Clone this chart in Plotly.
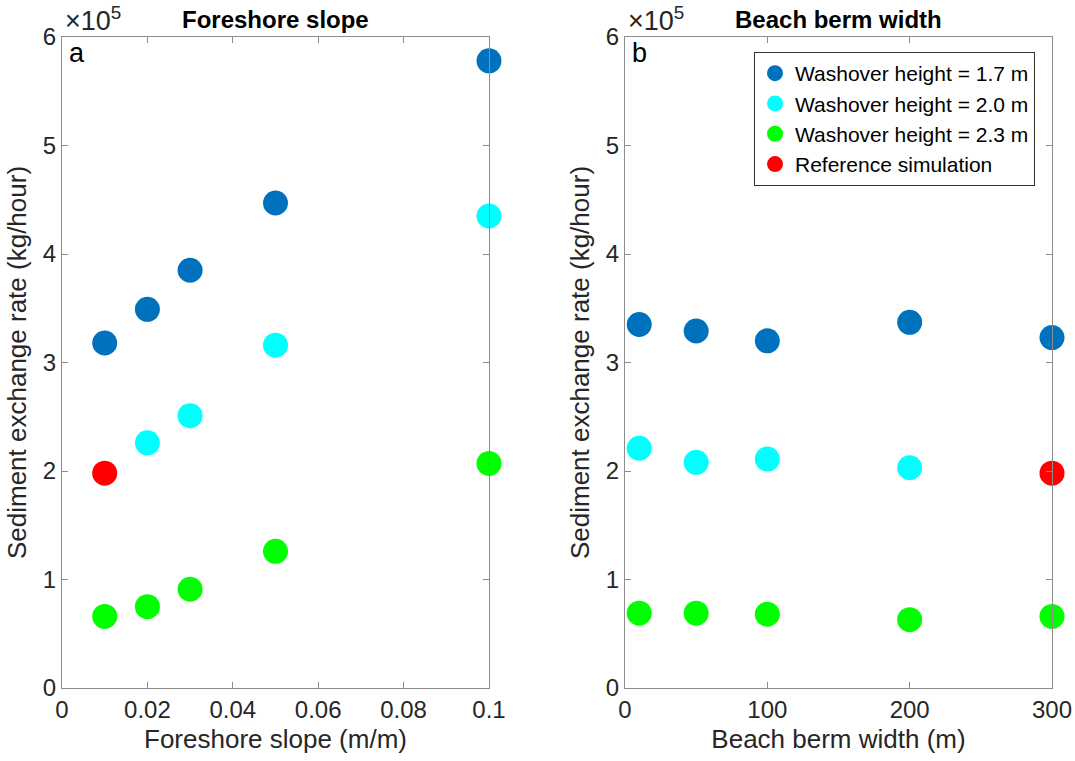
import plotly.graph_objects as go

# ---- data ----
slope_x = [0.01, 0.02, 0.03, 0.05, 0.1]
slope_h17 = [3.18e5, 3.49e5, 3.85e5, 4.47e5, 5.78e5]
slope_h20_x = [0.02, 0.03, 0.05, 0.1]
slope_h20 = [2.26e5, 2.51e5, 3.16e5, 4.35e5]
slope_h23 = [0.66e5, 0.75e5, 0.91e5, 1.26e5, 2.07e5]
slope_ref_x = [0.01]
slope_ref = [1.98e5]

berm_x = [10, 50, 100, 200, 300]
berm_h17 = [3.35e5, 3.29e5, 3.20e5, 3.37e5, 3.23e5]
berm_h20_x = [10, 50, 100, 200]
berm_h20 = [2.21e5, 2.08e5, 2.11e5, 2.03e5]
berm_h23 = [0.69e5, 0.69e5, 0.68e5, 0.63e5, 0.66e5]
berm_ref_x = [300]
berm_ref = [1.98e5]

y_tickvals = [0, 1e5, 2e5, 3e5, 4e5, 5e5, 6e5]
y_ticktext = ["0", "1", "2", "3", "4", "5", "6"]
slope_ticks = [0, 0.02, 0.04, 0.06, 0.08, 0.1]
slope_ticktext = ["0", "0.02", "0.04", "0.06", "0.08", "0.1"]
berm_ticks = [0, 100, 200, 300]

names = ["Washover height = 1.7 m", "Washover height = 2.0 m",
         "Washover height = 2.3 m", "Reference simulation"]
colors = ["#0072BD", "#00FFFF", "#00FF00", "#FF0000"]

FONT = "Liberation Sans, Arial, sans-serif"
MS = 25

fig = go.Figure()

def add(xs, ys, i, xa, ya, show):
    fig.add_trace(go.Scatter(x=xs, y=ys, mode="markers", name=names[i],
                             marker=dict(size=MS, color=colors[i], line=dict(width=0)),
                             xaxis=xa, yaxis=ya, showlegend=show, legendgroup=names[i],
                             cliponaxis=False))

add(slope_x, slope_h17, 0, "x", "y", False)
add(slope_h20_x, slope_h20, 1, "x", "y", False)
add(slope_x, slope_h23, 2, "x", "y", False)
add(slope_ref_x, slope_ref, 3, "x", "y", False)

add(berm_x, berm_h17, 0, "x2", "y2", True)
add(berm_h20_x, berm_h20, 1, "x2", "y2", True)
add(berm_x, berm_h23, 2, "x2", "y2", True)
add(berm_ref_x, berm_ref, 3, "x2", "y2", True)

W, H = 1075, 761
L1, R1 = 62, 489
L2, R2 = 625, 1052
T, B = 37, 688

axcommon = dict(showline=True, linecolor="#8c8c8c", linewidth=1, mirror="ticks",
                ticks="inside", ticklen=6, tickcolor="#8c8c8c", showgrid=False,
                zeroline=False, automargin=False,
                tickfont=dict(family=FONT, size=24, color="#262626"),
                title_font=dict(family=FONT, size=26, color="#262626"))

ydom = [1 - B / H, 1 - T / H]

fig.update_layout(
    width=W, height=H, margin=dict(l=0, r=0, t=0, b=0),
    plot_bgcolor="white", paper_bgcolor="white",
    font=dict(family=FONT, color="#262626"),
    xaxis=dict(domain=[L1 / W, R1 / W], range=[0, 0.1], tickvals=slope_ticks,
               ticktext=slope_ticktext, title=dict(text="Foreshore slope (m/m)", standoff=8),
               anchor="y", **axcommon),
    yaxis=dict(domain=ydom, range=[0, 6e5], tickvals=y_tickvals, ticktext=y_ticktext,
               title=dict(text="Sediment exchange rate (kg/hour)", standoff=8),
               anchor="x", **axcommon),
    xaxis2=dict(domain=[L2 / W, R2 / W], range=[0, 300], tickvals=berm_ticks,
                title=dict(text="Beach berm width (m)", standoff=8), anchor="y2", **axcommon),
    yaxis2=dict(domain=ydom, range=[0, 6e5], tickvals=y_tickvals, ticktext=y_ticktext,
                title=dict(text="Sediment exchange rate (kg/hour)", standoff=8),
                anchor="x2", **axcommon),
    legend=dict(x=754 / W, y=1 - 52 / H, xanchor="left", yanchor="top",
                bgcolor="white", bordercolor="#333333", borderwidth=1,
                font=dict(family=FONT, size=21, color="#000000"),
                itemsizing="trace", tracegroupgap=0),
)

ann = []
for xm, title in [((L1 + R1) / 2, "Foreshore slope"), ((L2 + R2) / 2, "Beach berm width")]:
    ann.append(dict(x=xm / W, y=1 - 20 / H, xref="paper", yref="paper", text="<b>%s</b>" % title,
                    showarrow=False, font=dict(family=FONT, size=24, color="#000000"),
                    xanchor="center", yanchor="middle"))
for xl in [L1, L2]:
    ann.append(dict(x=(xl + 1) / W, y=1 - 38 / H, xref="paper", yref="paper",
                    text="×10<sup>5</sup>", showarrow=False,
                    font=dict(family=FONT, size=27, color="#262626"),
                    xanchor="left", yanchor="bottom"))
for xl, lab in [(L1, "a"), (L2, "b")]:
    ann.append(dict(x=(xl + 5) / W, y=1 - 36 / H, xref="paper", yref="paper", text=lab,
                    showarrow=False, font=dict(family=FONT, size=27, color="#000000"),
                    xanchor="left", yanchor="top"))
fig.update_layout(annotations=ann)

fig.write_html("out.html")
